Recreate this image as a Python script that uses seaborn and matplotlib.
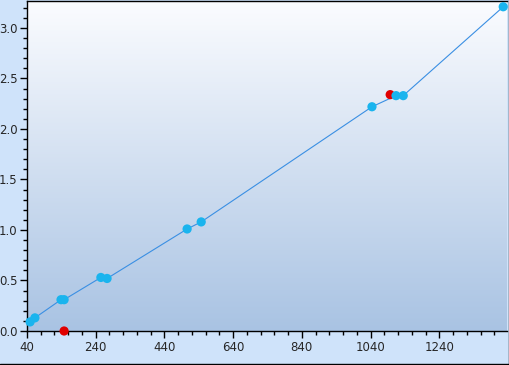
import numpy as np
import pandas as pd
import matplotlib
matplotlib.use("Agg")
import matplotlib.pyplot as plt
from matplotlib.ticker import MultipleLocator, FormatStrFormatter
import seaborn as sns

# blue series (connected by the line)
blue_x = [49, 63, 139, 148, 255, 273, 506, 547, 1044, 1114, 1135, 1426]
blue_y = [0.09, 0.13, 0.31, 0.31, 0.53, 0.52, 1.01, 1.08, 2.22, 2.33, 2.33, 3.21]

# red markers (standalone)
red_x = [148, 1097]
red_y = [0.0, 2.34]

blue = pd.DataFrame({"x": blue_x, "y": blue_y})
red = pd.DataFrame({"x": red_x, "y": red_y})

sns.set_style("white")
plt.rcParams['font.family'] = ['DejaVu Sans']

fig = plt.figure(figsize=(5.09, 3.65), dpi=100)
fig.patch.set_facecolor("#cfe3fa")
ax = fig.add_axes([27 / 509, 34 / 365, 480 / 509, 330 / 365])

xmin, xmax = 40, 1437
ymin, ymax = 0, 3.267

# vertical gradient background
grad = np.linspace(0, 1, 256).reshape(-1, 1)
cmap = matplotlib.colors.LinearSegmentedColormap.from_list("bg", ["#a9c3e3", "#fbfcff"])
ax.imshow(grad, extent=[xmin, xmax, ymin, ymax], origin="lower", aspect="auto",
          cmap=cmap, zorder=0)

sns.lineplot(data=blue, x="x", y="y", sort=False, color="#3a8fe3", linewidth=0.8,
             ax=ax, zorder=2)
sns.scatterplot(data=red, x="x", y="y", color="#e00000", s=44, edgecolor="none",
                ax=ax, zorder=3, clip_on=False)
sns.scatterplot(data=blue, x="x", y="y", color="#1ab4ee", s=44, edgecolor="none",
                ax=ax, zorder=4, clip_on=False)

ax.set_xlim(xmin, xmax)
ax.set_ylim(ymin, ymax)
ax.set_xlabel("")
ax.set_ylabel("")
ax.set_xticks([40, 240, 440, 640, 840, 1040, 1240])
ax.xaxis.set_minor_locator(MultipleLocator(40))
ax.yaxis.set_major_locator(MultipleLocator(0.5))
ax.yaxis.set_minor_locator(MultipleLocator(0.1))
ax.yaxis.set_major_formatter(FormatStrFormatter("%.1f"))
ax.tick_params(which="major", direction="out", length=5, width=1, color="black",
               labelsize=8.5, pad=2, bottom=True, left=True)
ax.tick_params(which="minor", direction="out", length=3, width=1, color="black",
               bottom=True, left=True)

for side in ["left", "bottom", "top"]:
    ax.spines[side].set_color("black")
    ax.spines[side].set_linewidth(1)
ax.spines["right"].set_visible(False)

# figure border on the right and bottom
fig.add_artist(plt.Line2D([508.5 / 509, 508.5 / 509], [0, 1], color="black", lw=1))
fig.add_artist(plt.Line2D([0, 1], [1.5 / 365, 1.5 / 365], color="black", lw=1))

fig.savefig("out.png", dpi=100, facecolor=fig.get_facecolor())
